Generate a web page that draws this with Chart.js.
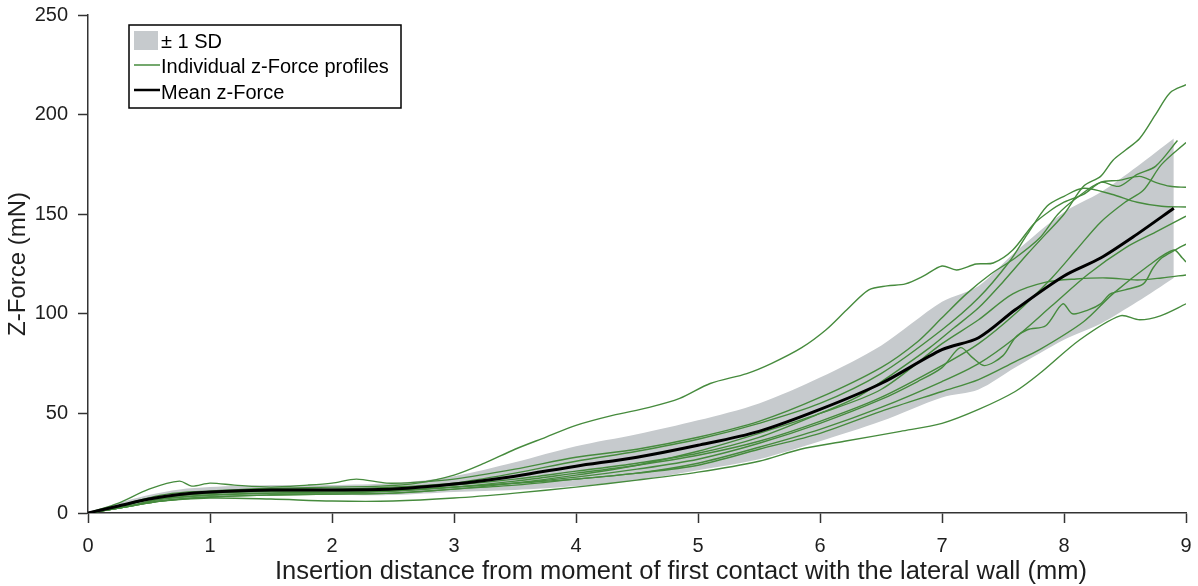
<!DOCTYPE html>
<html>
<head>
<meta charset="utf-8">
<script src="https://cdn.jsdelivr.net/npm/chart.js@4.4.0/dist/chart.umd.min.js"></script>
<style>
  body { margin: 0; background: #fff; }
  canvas { display: block; }
</style>
</head>
<body>
<canvas id="force-data" width="1198" height="586"></canvas>
<script>
// mean curve and standard deviation
const meanX = [0, 0.25, 0.5, 0.75, 1, 1.5, 2, 2.5, 3, 3.5, 4, 4.5, 5, 5.5, 6, 6.5, 7, 7.3, 7.6, 8, 8.3, 8.6, 8.9];
const meanY = [0, 3.5, 7, 9.3, 10.5, 11.5, 11.5, 12, 14.5, 18.5, 23.5, 28, 34, 41, 52, 65, 82, 88, 102, 119, 128, 140, 153];
const sdY = [0, 1.5, 2, 2.5, 2.5, 2.5, 2.5, 3, 4, 7, 10, 11.5, 12.5, 14, 16, 19, 24, 26, 29, 32, 33, 34, 35];

// individual z-force profiles [x, y]
const profile1 = [[0,0],[0.2,2],[0.4,6],[0.6,9],[0.8,10.5],[1,11],[1.3,12],[1.6,12.5],[2,13],[2.4,13.5],[2.7,15],[3,19],[3.25,25],[3.5,32],[3.75,38],[4,44],[4.3,49],[4.6,53],[4.85,57.5],[5.1,65],[5.4,70],[5.6,75],[5.85,83],[6.05,92],[6.22,102],[6.4,112],[6.55,114],[6.7,115],[6.85,119],[7,124],[7.12,122],[7.28,125],[7.42,125.5],[7.58,132],[7.75,145],[7.87,151],[8,156],[8.16,160],[8.3,166],[8.45,167],[8.62,169],[8.75,166],[8.87,164],[9,163.5]];
const profile2 = [[0,0],[0.3,4],[0.6,8],[1,10],[1.5,11],[2,11.5],[2.5,12],[3,14],[3.5,17],[4,21],[4.5,25],[5,30],[5.5,38],[6,50],[6.3,58],[6.6,70],[6.9,83],[7.1,93],[7.3,103],[7.5,116],[7.7,130],[7.85,140],[8,150],[8.16,164],[8.3,169],[8.4,177],[8.5,182],[8.62,188],[8.75,200],[8.87,211],[9,215]];
const profile3 = [[0,0],[0.3,3],[0.6,7],[1,9],[1.5,10],[2,10.5],[2.5,11],[3,13],[3.5,16],[4,20],[4.5,24],[5,29],[5.5,36],[6,46],[6.5,58],[7,74],[7.3,85],[7.6,100],[7.9,118],[8.1,132],[8.3,146],[8.5,156],[8.65,162],[8.8,175],[9,186]];
const profile4 = [[0,0],[0.25,5],[0.5,12],[0.75,16],[0.85,13.5],[1,15],[1.2,14],[1.5,13],[1.8,14],[2,15],[2.2,17],[2.45,15],[2.7,15.5],[3,17],[3.5,22],[4,28],[4.5,32],[5,38],[5.5,46],[6,58],[6.5,73],[6.8,86],[7,98],[7.2,110],[7.4,120],[7.6,128],[7.8,138],[7.95,150],[8.1,158],[8.3,166],[8.45,164],[8.6,170],[8.75,174],[8.93,187]];
const profile5 = [[0,0],[0.3,4],[0.6,8],[1,10],[1.5,12],[2,12],[2.5,13],[3,15],[3.5,20],[4,26],[4.5,31],[5,37],[5.5,45],[6,55],[6.5,70],[7,92],[7.3,108],[7.55,126],[7.7,140],[7.86,154],[8,159],[8.16,163],[8.39,160],[8.6,156],[8.8,154],[9,153.6]];
const profile6 = [[0,0],[0.3,3],[0.6,6],[1,8],[1.5,9],[2,9.5],[2.5,10],[3,12],[3.5,14],[4,17],[4.5,20],[5,25],[5.5,33],[6,42],[6.5,53],[7,66],[7.3,75],[7.6,88],[7.9,104],[8.2,120],[8.5,133],[8.75,141],[9,149]];
const profile7 = [[0,0],[0.3,3],[0.6,7],[1,9],[1.5,10],[2,10],[2.5,11],[3,13],[3.5,15],[4,18],[4.5,22],[5,27],[5.5,35],[6,45],[6.5,57],[6.8,66],[7,73],[7.15,83],[7.25,78],[7.35,74],[7.5,79],[7.6,88],[7.7,92],[7.85,94],[7.99,105],[8.07,100],[8.2,102],[8.3,105],[8.38,110],[8.5,112],[8.65,115],[8.73,123],[8.8,128],[8.91,132],[9,135]];
const profile8 = [[0,0],[0.3,4],[0.6,8],[1,10],[1.5,11],[2,11],[2.5,11.5],[3,13],[3.5,15],[4,17],[4.5,20],[5,24],[5.5,32],[6,40],[6.5,51],[7,61],[7.3,67],[7.6,76],[7.8,82],[8.16,96],[8.4,110],[8.7,124.5],[8.9,132],[8.97,128],[9,126]];
const profile9 = [[0,0],[0.3,3],[0.6,6],[1,8],[1.5,9],[2,9.5],[2.5,10],[3,12],[3.5,15],[4,19],[4.5,24],[5,31],[5.5,40],[6,50],[6.5,62],[7,85],[7.3,97],[7.58,110],[7.86,116],[8.1,117.5],[8.35,118],[8.6,117],[8.8,118],[9,119.5]];
const profile10 = [[0,0],[0.3,3],[0.6,6],[1,7.5],[1.5,7],[2,6],[2.5,6],[3,7.5],[3.5,10],[4,13],[4.5,16.5],[5,20.5],[5.5,26],[5.84,32],[6.2,36],[6.66,41],[7,45],[7.3,52],[7.6,61],[7.8,70],[8.13,87],[8.46,99],[8.62,97],[8.79,99],[9,105]];

const profiles = [profile1, profile2, profile3, profile4, profile5, profile6, profile7, profile8, profile9, profile10];

const xTicks = [0, 1, 2, 3, 4, 5, 6, 7, 8, 9];
const yTicks = [0, 50, 100, 150, 200, 250];
const legendLabels = ['± 1 SD', 'Individual z-Force profiles', 'Mean z-Force'];
const xTitle = 'Insertion distance from moment of first contact with the lateral wall (mm)';
const yTitle = 'Z-Force (mN)';

const green = '#468b3d';
const bandColor = '#c6cacd';
const axisColor = '#333333';
const textColor = '#1e1e1e';
const fontFamily = '"Liberation Sans", Arial, sans-serif';

const upperBand = meanX.map((x, i) => ({ x: x, y: meanY[i] + sdY[i] }));
const lowerBand = meanX.map((x, i) => ({ x: x, y: meanY[i] - sdY[i] }));
const meanLine = meanX.map((x, i) => ({ x: x, y: meanY[i] }));

// legend box in the top left corner + x axis title (sits off-centre in the original)
const legendBox = {
    id: 'legendBox',
    afterDraw(chart) {
        const ctx = chart.ctx;
        ctx.save();
        ctx.fillStyle = '#fff';
        ctx.fillRect(129, 25, 272, 83);
        ctx.strokeStyle = '#000';
        ctx.lineWidth = 1.5;
        ctx.strokeRect(129, 25, 272, 83);

        ctx.fillStyle = bandColor;
        ctx.fillRect(134, 31, 24, 19);

        ctx.beginPath();
        ctx.strokeStyle = green;
        ctx.lineWidth = 1.5;
        ctx.moveTo(134, 65);
        ctx.lineTo(160, 65);
        ctx.stroke();

        ctx.beginPath();
        ctx.strokeStyle = '#000';
        ctx.lineWidth = 2.5;
        ctx.moveTo(134, 90);
        ctx.lineTo(160, 90);
        ctx.stroke();

        ctx.fillStyle = '#000';
        ctx.font = '20px ' + fontFamily;
        ctx.textBaseline = 'middle';
        ctx.fillText(legendLabels[0], 161, 42);
        ctx.fillText(legendLabels[1], 161, 67);
        ctx.fillText(legendLabels[2], 161, 93);

        ctx.fillStyle = textColor;
        ctx.font = '25.5px ' + fontFamily;
        ctx.textAlign = 'center';
        ctx.fillText(xTitle, 681, 572);
        ctx.restore();
    }
};

const datasets = [
    {
        data: upperBand,
        borderWidth: 0,
        pointRadius: 0,
        backgroundColor: bandColor,
        fill: '+1',
        tension: 0.3,
        order: 3
    },
    {
        data: lowerBand,
        borderWidth: 0,
        pointRadius: 0,
        fill: false,
        tension: 0.3,
        order: 3
    }
];

profiles.forEach(p => {
    datasets.push({
        data: p.map(d => ({ x: d[0], y: d[1] })),
        borderColor: green,
        borderWidth: 1.4,
        pointRadius: 0,
        fill: false,
        tension: 0.3,
        order: 2
    });
});

datasets.push({
    data: meanLine,
    borderColor: '#000',
    borderWidth: 3,
    pointRadius: 0,
    fill: false,
    tension: 0.3,
    order: 1
});

const forceCtx = document.getElementById('force-data').getContext('2d');

new Chart(forceCtx, {
    type: 'line',
    data: { datasets: datasets },
    options: {
        responsive: false,
        animation: false,
        layout: { padding: { top: 15, right: 12, bottom: 0, left: 0 } },
        plugins: {
            legend: { display: false },
            tooltip: { enabled: false }
        },
        scales: {
            x: {
                type: 'linear',
                min: 0,
                max: 9,
                afterBuildTicks: scale => { scale.ticks = xTicks.map(v => ({ value: v })); },
                afterFit: scale => {
                    scale.height = 73;
                    scale.paddingLeft = 0;
                    scale.paddingRight = 0;
                },
                grid: { drawOnChartArea: false, drawTicks: true, tickLength: 10, tickWidth: 1.5, tickColor: axisColor },
                border: { display: true, color: axisColor, width: 1.5 },
                ticks: { color: textColor, padding: 11, font: { family: fontFamily, size: 20 } },
                title: { display: false }
            },
            y: {
                type: 'linear',
                min: 0,
                max: 250,
                afterBuildTicks: scale => { scale.ticks = yTicks.map(v => ({ value: v })); },
                afterFit: scale => {
                    scale.width = 88;
                    scale.paddingTop = 0;
                    scale.paddingBottom = 0;
                },
                grid: { drawOnChartArea: false, drawTicks: true, tickLength: 10, tickWidth: 1.5, tickColor: axisColor },
                border: { display: true, color: axisColor, width: 1.5 },
                ticks: { color: textColor, padding: 10, font: { family: fontFamily, size: 20 } },
                title: {
                    display: true,
                    text: yTitle,
                    color: textColor,
                    font: { family: fontFamily, size: 24 },
                    padding: { top: 4, bottom: 0 }
                }
            }
        }
    },
    plugins: [legendBox]
});
</script>
</body>
</html>
